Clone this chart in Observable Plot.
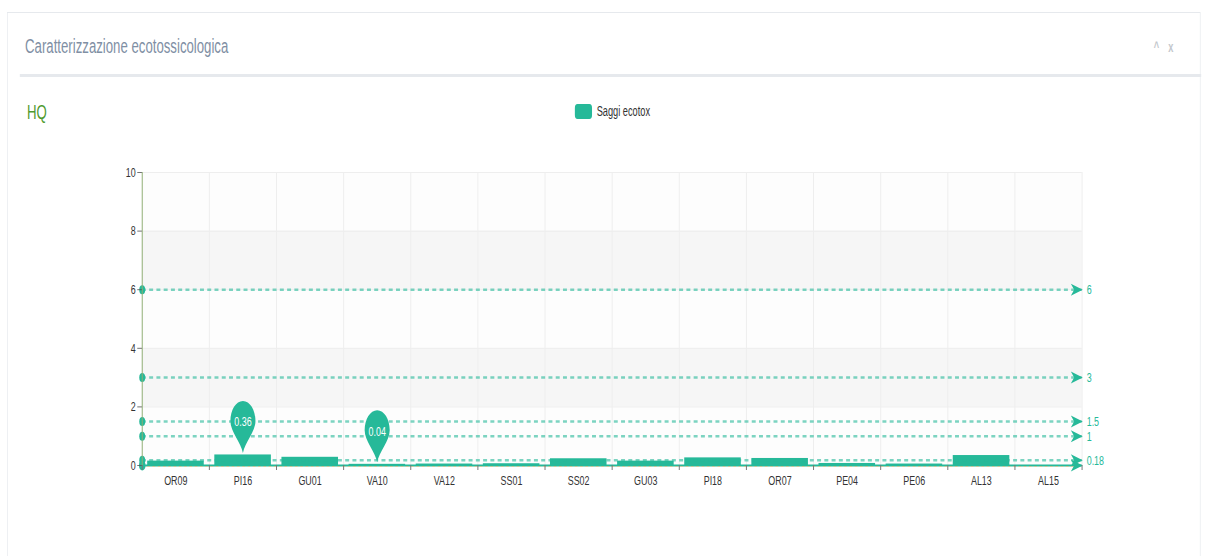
<!DOCTYPE html>
<html>
<head>
<meta charset="utf-8">
<script src="https://cdn.jsdelivr.net/npm/d3@7"></script>
<script src="https://cdn.jsdelivr.net/npm/@observablehq/plot@0.6"></script>
<style>
  html, body { margin: 0; padding: 0; background: #fff; width: 1206px; height: 556px; overflow: hidden; }
  body { position: relative; font-family: "Liberation Sans", Arial, sans-serif; }
  /* the reference is a horizontally condensed rendering: draw wide, then squeeze */
  #stage { position: absolute; left: 0; top: 0; width: 1827px; height: 556px; transform: scaleX(0.66); transform-origin: 0 0; }
  #panel { position: absolute; left: 10.6px; top: 12px; width: 1808px; height: 560px; border: 1px solid #e6e9ed; box-sizing: border-box; }
  #title { position: absolute; left: 38px; top: 35px; font-size: 20px; color: #7f8fa4; white-space: nowrap; }
  #sep { position: absolute; left: 30px; top: 74px; width: 1790px; height: 3px; background: #e6e9ed; }
  #icons { position: absolute; left: 1748px; top: 39px; font-size: 14px; color: #c3c7cc; font-weight: bold; }
  #icons span { margin-right: 14px; }
  #hq { position: absolute; left: 41px; top: 101px; font-size: 20px; color: #4f9a2e; }
  #legend { position: absolute; left: 871px; top: 103px; display: flex; align-items: center; font-size: 14px; color: #333; }
  #legend .sw { width: 26px; height: 15px; border-radius: 4px; background: #26b999; margin-right: 7px; }
  #chart { position: absolute; left: 0; top: 90px; }
</style>
</head>
<body>
<div id="stage">
<div id="panel"></div>
<div id="title">Caratterizzazione ecotossicologica</div>
<div id="icons"><span>^</span>x</div>
<div id="sep"></div>
<div id="hq">HQ</div>
<div id="legend"><div class="sw"></div><span>Saggi ecotox</span></div>
<div id="chart"></div>
</div>
<script>
// ---- data ----
const categories = ["OR09","PI16","GU01","VA10","VA12","SS01","SS02","GU03","PI18","OR07","PE04","PE06","AL13","AL15"];
const values = [0.15, 0.36, 0.28, 0.04, 0.05, 0.06, 0.23, 0.15, 0.26, 0.24, 0.07, 0.05, 0.34, null];
const thresholds = [6, 3, 1.5, 1, 0.18];
const thresholdLabels = ["6", "3", "1.5", "1", "0.18"];
const yTicks = [0, 2, 4, 6, 8, 10];
const pinCategories = ["PI16", "VA10"];
const pinValues = [0.36, 0.04];
const pinLabels = ["0.36", "0.04"];
const seriesName = "Saggi ecotox";

// ---- build tables ----
const teal = "#26b999";
const barData = categories.map((c, i) => ({c, i, v: values[i]})).filter(d => d.v != null);
const bandData = yTicks.slice(0, -1).map((t, k) => ({y1: t, y2: yTicks[k + 1], k}));
const pinData = pinCategories.map((c, k) => ({i: categories.indexOf(c), v: pinValues[k], label: pinLabels[k]}));
const boundaries = d3.range(categories.length + 1);
const centers = categories.map((c, i) => i + 0.5);

const pinSymbol = {
  draw(ctx) {
    const a = 19, cy = -32, b = 20, k = 0.5523;
    ctx.moveTo(-a, cy);
    ctx.bezierCurveTo(-a, cy - k * b, -k * a, cy - b, 0, cy - b);
    ctx.bezierCurveTo(k * a, cy - b, a, cy - k * b, a, cy);
    ctx.bezierCurveTo(a, cy + 11, 3, -11, 0, 0);
    ctx.bezierCurveTo(-3, -11, -a, cy + 11, -a, cy);
    ctx.closePath();
  }
};
const arrowSymbol = {
  draw(ctx) {
    ctx.moveTo(1, 0);
    ctx.lineTo(-17, -6);
    ctx.lineTo(-12, 0);
    ctx.lineTo(-17, 6);
    ctx.closePath();
  }
};

const chart = Plot.plot({
  width: 1827,
  height: 420,
  marginTop: 82,
  marginBottom: 45,
  marginLeft: 215,
  marginRight: 188,
  style: {fontFamily: '"Liberation Sans", Arial, sans-serif', fontSize: "13px", background: "transparent", overflow: "visible"},
  x: {domain: [0, categories.length], axis: null},
  y: {domain: [0, 10], axis: null},
  marks: [
    // alternating background bands
    Plot.rectY(bandData, {x1: 0, x2: categories.length, y1: "y1", y2: "y2", fill: d => d.k % 2 ? "#f6f6f6" : "#fdfdfd"}),
    // grid
    Plot.ruleY(yTicks.slice(1), {stroke: "#ebebeb", strokeWidth: 1}),
    Plot.ruleX(boundaries.slice(1), {stroke: "#eeeeee", strokeWidth: 1.5}),
    // bars
    Plot.rectY(barData, {x1: d => d.i, x2: d => d.i + 1, y: "v", fill: teal, insetLeft: 8, insetRight: 8, title: d => `${seriesName} ${d.c}: ${d.v}`}),
    // threshold lines
    Plot.ruleY(thresholds, {stroke: teal, strokeOpacity: 0.6, strokeWidth: 2.5, strokeDasharray: "6,5"}),
    Plot.dot(thresholds, {y: d => d, frameAnchor: "left", r: 4.5, fill: teal}),
    Plot.dot(thresholds, {y: d => d, frameAnchor: "right", symbol: arrowSymbol, fill: teal}),
    Plot.text(thresholds, {y: d => d, frameAnchor: "right", text: (d, i) => thresholdLabels[i], dx: 7, textAnchor: "start", fill: teal, fontSize: 13.5}),
    // zero line
    Plot.ruleY([0], {stroke: teal, strokeWidth: 2}),
    Plot.ruleY([0], {stroke: "#d9c08a", strokeWidth: 1, strokeDasharray: "4,4", dy: 1}),
    Plot.dot([0], {y: d => d, frameAnchor: "left", r: 5, fill: teal}),
    Plot.dot([0], {y: d => d, frameAnchor: "right", symbol: arrowSymbol, fill: teal}),
    // y axis
    Plot.ruleX([0], {stroke: "#8fae74", strokeWidth: 1.5}),
    Plot.axisY({ticks: yTicks, tickSize: 7, tickPadding: 3, stroke: "#555", color: "#333", fontSize: 13.5, label: null}),
    // x axis ticks at boundaries & labels at centers
    Plot.axisX({ticks: boundaries, tickSize: 5, tickFormat: () => "", stroke: "#777", strokeWidth: 1.5, label: null}),
    Plot.axisX({ticks: centers, tickSize: 0, tickPadding: 10, tickFormat: d => categories[Math.floor(d)], color: "#333", fontSize: 13.5, label: null}),
    // pins
    Plot.dot(pinData, {x: d => d.i + 0.5, y: "v", symbol: pinSymbol, fill: teal, dy: -2}),
    Plot.text(pinData, {x: d => d.i + 0.5, y: "v", text: "label", dy: -33, fill: "#fff", fontSize: 13.5})
  ]
});
document.getElementById("chart").appendChild(chart);
</script>
</body>
</html>
